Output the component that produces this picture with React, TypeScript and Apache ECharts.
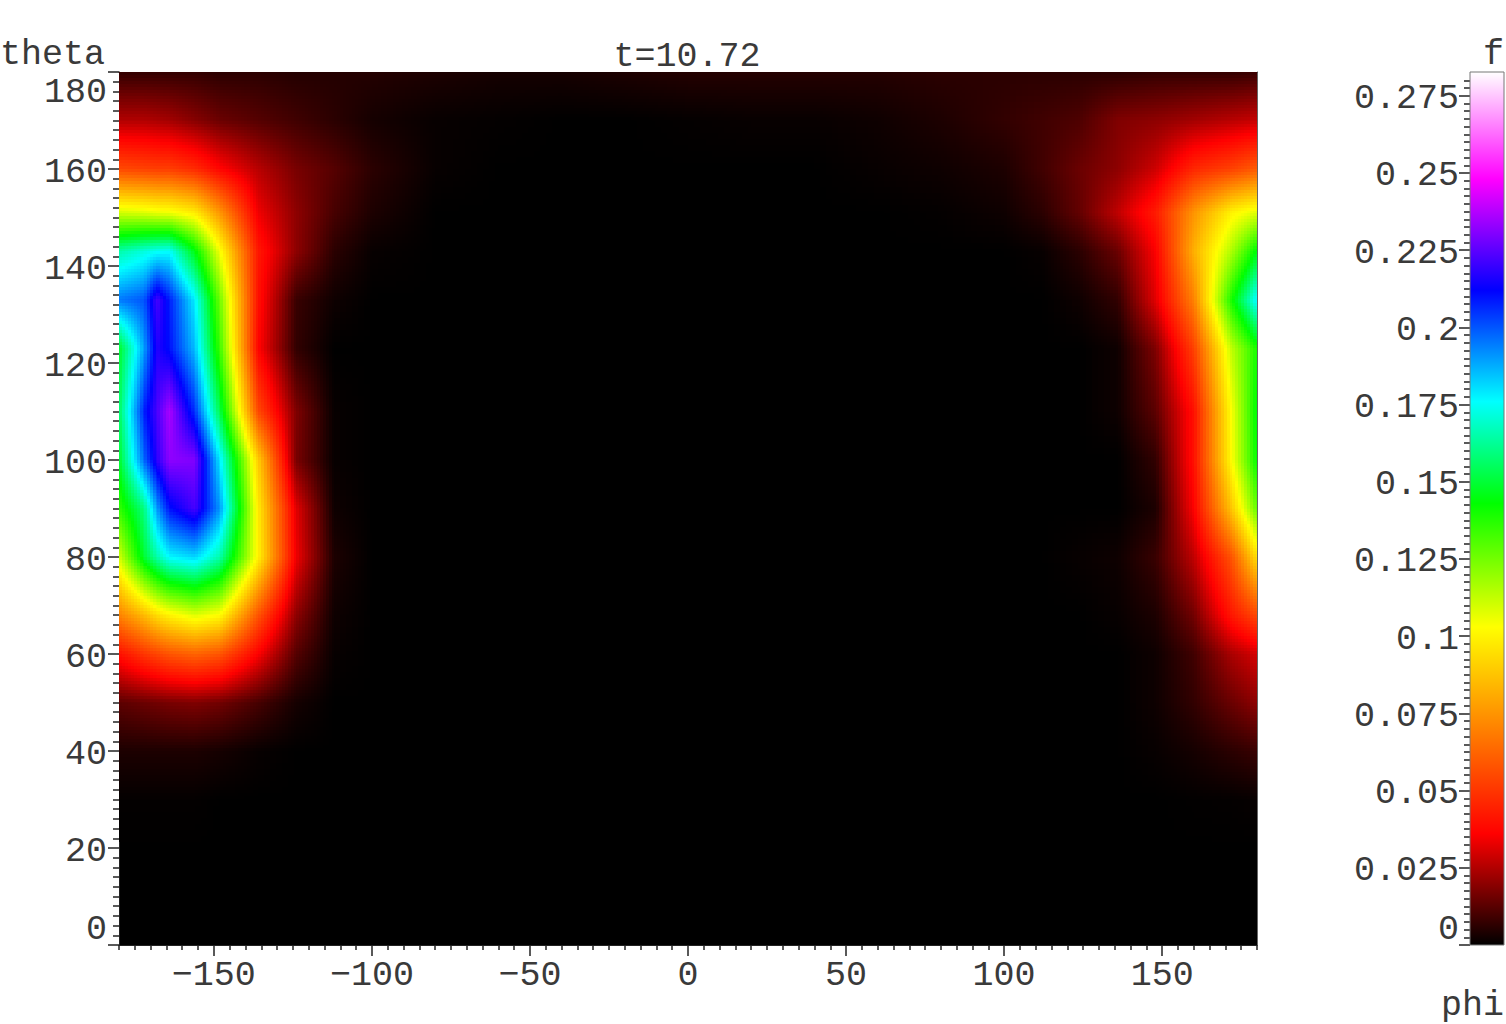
import React, { useEffect, useRef } from "react";
import * as echarts from "echarts";

const FONT = '"Liberation Mono", "DejaVu Sans Mono", monospace';
const INK = "#3a3a3a";
const FS = 35;

const phiNodes = [-180, -172, -168, -164, -156, -148, -136, -124, -112, -100, -80, -60, -40, -20, 0, 20, 40, 60, 80, 100, 112, 124, 136, 148, 160, 172, 180];
const thetaNodes = [180, 170, 160, 151, 143, 133, 123, 110, 100, 90, 80, 68, 60, 50, 40, 30, 20, 10, 0];

// f(theta, phi): one row per entry of thetaNodes, one value per entry of phiNodes
const fRows = [
  [.007, .007, .007, .007, .007, .006, .006, .005, .005, .005, .004, .003, .003, .004, .005, .005, .005, .005, .006, .006, .006, .006, .006, .007, .007, .007, .008],
  [.025, .025, .024, .023, .019, .015, .012, .009, .006, .003, .001, .0005, 0, 0, .0005, .001, .001, .002, .004, .007, .009, .011, .018, .020, .023, .026, .028],
  [.055, .053, .052, .052, .047, .037, .026, .017, .012, .006, .001, 0, 0, 0, 0, 0, 0, .001, .002, .004, .009, .015, .020, .029, .046, .053, .060],
  [.110, .108, .106, .105, .098, .075, .034, .020, .010, .004, 0, 0, 0, 0, 0, 0, 0, 0, .0005, .002, .006, .014, .027, .043, .075, .100, .108],
  [.165, .172, .175, .176, .145, .104, .042, .020, .006, .001, 0, 0, 0, 0, 0, 0, 0, 0, 0, 0, .001, .006, .015, .036, .082, .116, .145],
  [.195, .200, .222, .208, .178, .125, .040, .008, .002, 0, 0, 0, 0, 0, 0, 0, 0, 0, 0, 0, 0, .002, .007, .032, .070, .140, .178],
  [.148, .190, .217, .210, .185, .133, .037, .007, 0, 0, 0, 0, 0, 0, 0, 0, 0, 0, 0, 0, 0, 0, .002, .018, .053, .113, .140],
  [.155, .208, .222, .236, .205, .152, .055, .018, .001, 0, 0, 0, 0, 0, 0, 0, 0, 0, 0, 0, 0, 0, .002, .013, .040, .104, .145],
  [.148, .198, .218, .232, .230, .178, .090, .017, .001, 0, 0, 0, 0, 0, 0, 0, 0, 0, 0, 0, 0, 0, 0, .007, .040, .103, .143],
  [.135, .160, .190, .210, .222, .190, .098, .032, .002, 0, 0, 0, 0, 0, 0, 0, 0, 0, 0, 0, 0, 0, 0, .004, .036, .088, .128],
  [.110, .150, .165, .177, .182, .165, .100, .034, .004, 0, 0, 0, 0, 0, 0, 0, 0, 0, 0, 0, 0, .001, .002, .008, .027, .058, .095],
  [.070, .085, .094, .100, .108, .102, .058, .020, .002, 0, 0, 0, 0, 0, 0, 0, 0, 0, 0, 0, 0, 0, .001, .004, .016, .042, .055],
  [.040, .050, .054, .058, .062, .058, .036, .012, .001, 0, 0, 0, 0, 0, 0, 0, 0, 0, 0, 0, 0, 0, 0, .002, .009, .024, .030],
  [.013, .015, .016, .017, .018, .016, .010, .003, 0, 0, 0, 0, 0, 0, 0, 0, 0, 0, 0, 0, 0, 0, 0, .002, .007, .015, .020],
  [.004, .004, .004, .004, .004, .003, .001, 0, 0, 0, 0, 0, 0, 0, 0, 0, 0, 0, 0, 0, 0, 0, 0, .001, .003, .006, .008],
  [.0005, .0005, .0005, .0005, .0005, 0, 0, 0, 0, 0, 0, 0, 0, 0, 0, 0, 0, 0, 0, 0, 0, 0, 0, 0, .0003, .0005, .001],
  [0, 0, 0, 0, 0, 0, 0, 0, 0, 0, 0, 0, 0, 0, 0, 0, 0, 0, 0, 0, 0, 0, 0, 0, 0, 0, 0],
  [0, 0, 0, 0, 0, 0, 0, 0, 0, 0, 0, 0, 0, 0, 0, 0, 0, 0, 0, 0, 0, 0, 0, 0, 0, 0, 0],
  [0, 0, 0, 0, 0, 0, 0, 0, 0, 0, 0, 0, 0, 0, 0, 0, 0, 0, 0, 0, 0, 0, 0, 0, 0, 0, 0],
];

const phiTicks = [-150, -100, -50, 0, 50, 100, 150];
const thetaTicks = [0, 20, 40, 60, 80, 100, 120, 140, 160, 180];
const fTicks = [0, 0.025, 0.05, 0.075, 0.1, 0.125, 0.15, 0.175, 0.2, 0.225, 0.25, 0.275];
const phiMinorTicks = [-180, -175, -170, -165, -160, -155, -145, -140, -135, -130, -125, -120, -115, -110, -105, -95, -90, -85, -80, -75, -70, -65, -60, -55, -45, -40, -35, -30, -25, -20, -15, -10, -5, 5, 10, 15, 20, 25, 30, 35, 40, 45, 55, 60, 65, 70, 75, 80, 85, 90, 95, 105, 110, 115, 120, 125, 130, 135, 140, 145, 155, 160, 165, 170, 175, 180];
const thetaMinorTicks = [2, 4, 6, 8, 10, 12, 14, 16, 18, 22, 24, 26, 28, 30, 32, 34, 36, 38, 42, 44, 46, 48, 50, 52, 54, 56, 58, 62, 64, 66, 68, 70, 72, 74, 76, 78, 82, 84, 86, 88, 90, 92, 94, 96, 98, 102, 104, 106, 108, 110, 112, 114, 116, 118, 122, 124, 126, 128, 130, 132, 134, 136, 138, 142, 144, 146, 148, 150, 152, 154, 156, 158, 162, 164, 166, 168, 170, 172, 174, 176, 178];
const fMinorTicks = [0.0025, 0.005, 0.0075, 0.01, 0.0125, 0.015, 0.0175, 0.02, 0.0225, 0.0275, 0.03, 0.0325, 0.035, 0.0375, 0.04, 0.0425, 0.045, 0.0475, 0.0525, 0.055, 0.0575, 0.06, 0.0625, 0.065, 0.0675, 0.07, 0.0725, 0.0775, 0.08, 0.0825, 0.085, 0.0875, 0.09, 0.0925, 0.095, 0.0975, 0.1025, 0.105, 0.1075, 0.11, 0.1125, 0.115, 0.1175, 0.12, 0.1225, 0.1275, 0.13, 0.1325, 0.135, 0.1375, 0.14, 0.1425, 0.145, 0.1475, 0.1525, 0.155, 0.1575, 0.16, 0.1625, 0.165, 0.1675, 0.17, 0.1725, 0.1775, 0.18, 0.1825, 0.185, 0.1875, 0.19, 0.1925, 0.195, 0.1975, 0.2025, 0.205, 0.2075, 0.21, 0.2125, 0.215, 0.2175, 0.22, 0.2225, 0.2275, 0.23, 0.2325, 0.235, 0.2375, 0.24, 0.2425, 0.245, 0.2475, 0.2525, 0.255, 0.2575, 0.26, 0.2625, 0.265, 0.2675, 0.27, 0.2725, 0.2775, 0.28];

const F_MAX = 0.2827;
const colorValues = [0, 0.036, 0.103, 0.143, 0.176, 0.212, 0.248, 0.2827];
const colorRgb = [[0, 0, 0], [255, 0, 0], [255, 255, 0], [0, 255, 0], [0, 255, 255], [0, 0, 255], [255, 0, 255], [255, 255, 255]];

function hex(c: number[]) {
  return "#" + c.map((v) => Math.round(v).toString(16).padStart(2, "0")).join("");
}
function colorOf(f: number) {
  if (f <= 0) return "#000000";
  for (let i = 1; i < colorValues.length; i++) {
    if (f <= colorValues[i]) {
      const t = (f - colorValues[i - 1]) / (colorValues[i] - colorValues[i - 1]);
      const a = colorRgb[i - 1];
      const b = colorRgb[i];
      return hex([a[0] + (b[0] - a[0]) * t, a[1] + (b[1] - a[1]) * t, a[2] + (b[2] - a[2]) * t]);
    }
  }
  return "#ffffff";
}

const cells: number[][] = [];
for (let j = 0; j + 1 < thetaNodes.length; j++) {
  for (let i = 0; i + 1 < phiNodes.length; i++) {
    cells.push([phiNodes[i], thetaNodes[j], phiNodes[i + 1], thetaNodes[j + 1], fRows[j][i], fRows[j][i + 1], fRows[j + 1][i], fRows[j + 1][i + 1]]);
  }
}

function renderCell(_: any, api: any) {
  const p0 = api.coord([api.value(0), api.value(1)]);
  const p1 = api.coord([api.value(2), api.value(3)]);
  const a = api.value(4), b = api.value(5), c = api.value(6), d = api.value(7);
  const hi = Math.max(a, b, c, d);
  const lo = Math.min(a, b, c, d);
  if (hi <= 0) return null;
  const x0 = Math.round(p0[0]), y0 = Math.round(p0[1]);
  const x1 = Math.round(p1[0]), y1 = Math.round(p1[1]);
  const step = hi - lo < 0.003 ? 6 : 3;
  const children: any[] = [];
  for (let y = y0; y < y1; y += step) {
    const h = Math.min(step, y1 - y);
    const v = (y + h / 2 - p0[1]) / (p1[1] - p0[1]);
    let runX = x0;
    let runColor = "";
    const flush = (end: number) => {
      if (runColor && runColor !== "#000000") {
        children.push({ type: "rect", shape: { x: runX, y, width: end - runX, height: h }, style: { fill: runColor } });
      }
    };
    for (let x = x0; x < x1; x += step) {
      const w = Math.min(step, x1 - x);
      const u = (x + w / 2 - p0[0]) / (p1[0] - p0[0]);
      const f = a * (1 - u) * (1 - v) + b * u * (1 - v) + c * (1 - u) * v + d * u * v;
      const col = colorOf(f);
      if (col !== runColor) {
        flush(x);
        runX = x;
        runColor = col;
      }
    }
    flush(x1);
  }
  return { type: "group", children };
}

function renderBar(_: any, api: any) {
  const p0 = api.coord([0, api.value(1)]);
  const p1 = api.coord([1, api.value(0)]);
  const stops = colorValues.map((v, i) => ({ offset: v / F_MAX, color: hex(colorRgb[i]) }));
  return {
    type: "rect",
    shape: { x: p0[0], y: p0[1], width: p1[0] - p0[0], height: p1[1] - p0[1] },
    style: { fill: new echarts.graphic.LinearGradient(0, 1, 0, 0, stops), stroke: "#777777", lineWidth: 1 },
  };
}

const labelBase = { fontFamily: FONT, fontSize: FS, color: INK };
const edgeRich = {
  low: { ...labelBase, padding: [0, 0, 30, 0] },
  high: { ...labelBase, padding: [42, 0, 0, 0] },
  mid: { ...labelBase, padding: [7, 0, 0, 0] },
};
const line = { show: true, onZero: false, lineStyle: { color: "#222222", width: 1 } };
const off = { show: false };
const lineOff = { show: false, onZero: false };
const tickStyle = { color: "#222222", width: 1.5 };

function buildOption() {
  const xBase = { type: "value", min: -180, max: 180, gridIndex: 0, position: "bottom", splitLine: off };
  const yBase = { type: "value", min: 0, max: 180, gridIndex: 0, position: "left", splitLine: off };
  const bBase = { type: "value", min: 0, max: F_MAX, gridIndex: 1, position: "left", splitLine: off };
  return {
    animation: false,
    backgroundColor: "#ffffff",
    grid: [
      { left: 119, top: 72, width: 1138, height: 873, show: true, backgroundColor: "#000000", borderWidth: 0 },
      { left: 1470, top: 72, width: 34, height: 873, show: false },
    ],
    title: {
      text: "t=10.72",
      left: 682,
      top: 34,
      textAlign: "center",
      textStyle: { fontFamily: FONT, fontSize: FS, fontWeight: "normal", color: INK },
    },
    xAxis: [
      {
        ...xBase,
        axisLine: line,
        axisTick: { show: true, customValues: phiTicks, length: 11, lineStyle: tickStyle },
        axisLabel: {
          show: true,
          customValues: phiTicks,
          margin: 13,
          ...labelBase,
          formatter: (v: number) => String(v).replace("-", "\u2212"),
        },
      },
      { ...xBase, axisLine: lineOff, axisLabel: off, axisTick: { show: true, customValues: phiMinorTicks, length: 5, lineStyle: tickStyle } },
      { ...xBase, position: "top", axisLine: line, axisLabel: off, axisTick: off },
      { type: "value", min: 0, max: 1, gridIndex: 1, show: false },
    ],
    yAxis: [
      {
        ...yBase,
        axisLine: line,
        axisTick: { show: true, customValues: thetaTicks, length: 11, lineStyle: tickStyle },
        axisLabel: {
          show: true,
          customValues: thetaTicks,
          margin: 12,
          ...labelBase,
          rich: edgeRich,
          formatter: (v: number) => (v === 0 ? `{low|${v}}` : v === 180 ? `{high|${v}}` : `{mid|${v}}`),
        },
      },
      { ...yBase, axisLine: lineOff, axisLabel: off, axisTick: { show: true, customValues: thetaMinorTicks, length: 6, lineStyle: tickStyle } },
      { ...yBase, position: "right", axisLine: { ...line, lineStyle: { color: "#666666", width: 1 } }, axisLabel: off, axisTick: off },
      {
        ...bBase,
        axisLine: lineOff,
        axisTick: { show: true, customValues: fTicks, length: 11, lineStyle: tickStyle },
        axisLabel: {
          show: true,
          customValues: fTicks,
          margin: 11,
          ...labelBase,
          rich: edgeRich,
          formatter: (v: number) => (v === 0 ? `{low|0}` : `{mid|${v}}`),
        },
      },
      { ...bBase, axisLine: lineOff, axisLabel: off, axisTick: { show: true, customValues: fMinorTicks, length: 6, lineStyle: tickStyle } },
    ],
    series: [
      {
        type: "custom",
        name: "f",
        coordinateSystem: "cartesian2d",
        xAxisIndex: 0,
        yAxisIndex: 0,
        data: cells,
        encode: { x: [0, 2], y: [1, 3] },
        renderItem: renderCell,
        silent: true,
        progressive: 0,
        z: 1,
      },
      {
        type: "custom",
        name: "colorbar",
        coordinateSystem: "cartesian2d",
        xAxisIndex: 3,
        yAxisIndex: 3,
        data: [[0, F_MAX]],
        encode: { y: [0, 1] },
        renderItem: renderBar,
        silent: true,
        z: 1,
      },
    ],
    graphic: [
      { type: "text", left: 0, top: 37, style: { text: "theta", fontFamily: FONT, fontSize: FS, fill: INK } },
      { type: "text", right: 2, top: 37, style: { text: "f", fontFamily: FONT, fontSize: FS, fill: INK } },
      { type: "text", right: 2, top: 988, style: { text: "phi", fontFamily: FONT, fontSize: FS, fill: INK } },
    ],
  };
}

export default function App() {
  const ref = useRef<HTMLDivElement>(null);
  useEffect(() => {
    const chart = echarts.init(ref.current!, undefined, { renderer: "svg" });
    chart.setOption(buildOption() as any);
    return () => chart.dispose();
  }, []);
  return <div ref={ref} style={{ position: "absolute", left: 0, top: 0, width: 1506, height: 1024 }} />;
}
